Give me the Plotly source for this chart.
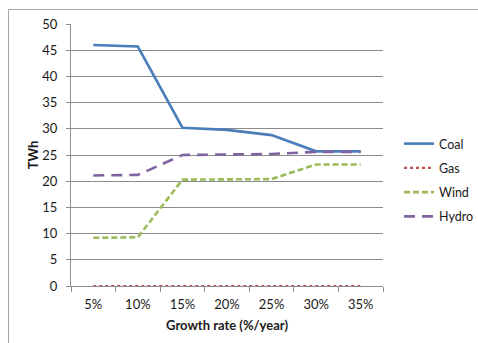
import plotly.graph_objects as go

# Electricity generation by source under different growth-rate scenarios
growth_rates = ["5%", "10%", "15%", "20%", "25%", "30%", "35%"]
coal = [46.0, 45.7, 30.2, 29.8, 28.8, 25.7, 25.7]
gas = [0, 0, 0, 0, 0, 0, 0]
wind = [9.2, 9.3, 20.3, 20.3, 20.4, 23.2, 23.2]
hydro = [21.1, 21.2, 25.0, 25.1, 25.2, 25.6, 25.6]
y_ticks = [0, 5, 10, 15, 20, 25, 30, 35, 40, 45, 50]

FONT = "Lato, 'Open Sans', sans-serif"
GRID = "#8c8c8c"
TEXT = "#1a1a1a"

series = [
    ("Coal", coal, dict(color="#4A7EBB", width=2.6, dash="solid")),
    ("Gas", gas, dict(color="#C0504D", width=2.2, dash="dot")),
    ("Wind", wind, dict(color="#9BBB59", width=2.6, dash="6px,3px")),
    ("Hydro", hydro, dict(color="#8064A2", width=2.6, dash="11px,7px")),
]

fig = go.Figure()
for name, vals, line in series:
    fig.add_trace(go.Scatter(
        x=growth_rates, y=vals, name=name, mode="lines", line=line,
        legendgroup=name,
    ))

W, H = 478, 343
L, R, T, B = 71, 95, 24, 57
pw, ph = W - L - R, H - T - B

def px_x(px):
    return (px - L) / pw

def px_y(py):
    return (H - B - py) / ph

# Chart frame (top and left edges)
frame = dict(color="#a6a6a6", width=1)
fig.add_shape(type="line", xref="paper", yref="paper",
              x0=px_x(8.5), x1=px_x(478), y0=px_y(9.5), y1=px_y(9.5), line=frame)
fig.add_shape(type="line", xref="paper", yref="paper",
              x0=px_x(8.5), x1=px_x(8.5), y0=px_y(9.5), y1=px_y(343), line=frame)

fig.update_layout(
    width=W, height=H,
    margin=dict(l=L, r=R, t=T, b=B, autoexpand=False),
    paper_bgcolor="white", plot_bgcolor="white",
    font=dict(family=FONT, size=13, color=TEXT),
    showlegend=True,
    legend=dict(x=px_x(399), y=px_y(129), xanchor="left", yanchor="top",
                font=dict(size=12.5), tracegroupgap=5, bgcolor="rgba(0,0,0,0)"),
    xaxis=dict(
        type="category", range=[-0.5, 6.5], showgrid=False,
        showline=True, linecolor=GRID, linewidth=1,
        ticks="outside", tickson="boundaries", ticklen=5, tickcolor=GRID,
        tickfont=dict(size=13), ticklabelstandoff=6,
        title=dict(text="<b>Growth rate (%/year)</b>", font=dict(size=13), standoff=10),
    ),
    yaxis=dict(
        range=[0, 50], tickvals=y_ticks, showgrid=True, gridcolor=GRID, gridwidth=1,
        showline=True, linecolor=GRID, linewidth=1,
        ticks="outside", ticklen=4, tickcolor=GRID, zeroline=False,
        tickfont=dict(size=13), ticklabelstandoff=6,
        title=dict(text="<b>TWh</b>", font=dict(size=13), standoff=0),
    ),
)

fig.write_html("out.html")
